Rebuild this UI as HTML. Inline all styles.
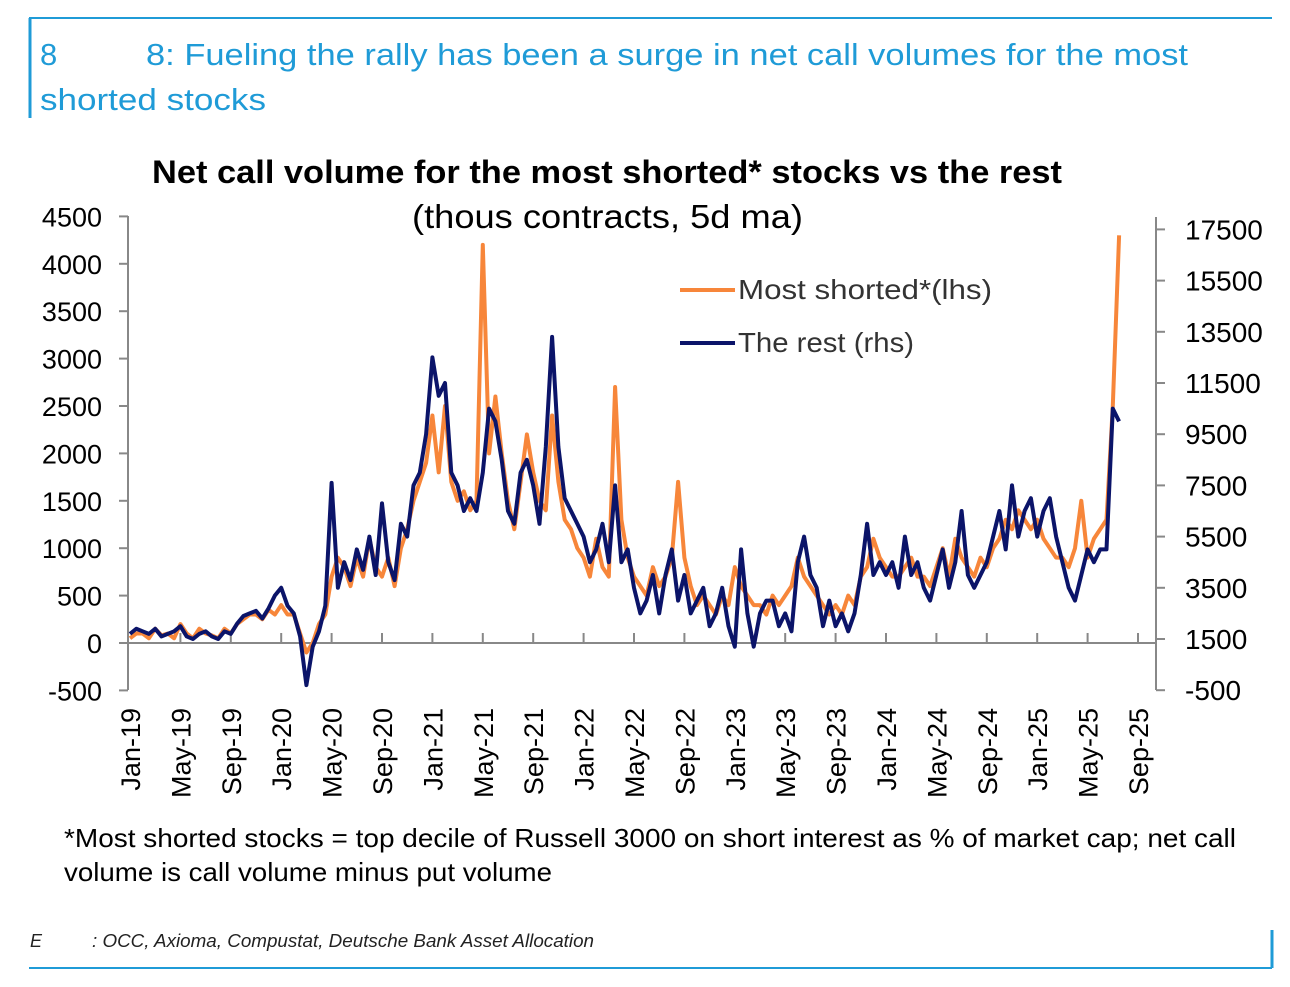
<!DOCTYPE html>
<html><head><meta charset="utf-8"><style>
body{margin:0;background:#fff;width:1290px;height:987px;overflow:hidden;font-family:"Liberation Sans",sans-serif;}
</style></head><body>
<svg width="1290" height="987" style="position:absolute;left:0;top:0">
<line x1="29" y1="18" x2="1272" y2="18" stroke="#1f9bd7" stroke-width="2"/>
<line x1="30" y1="18" x2="30" y2="118" stroke="#1f9bd7" stroke-width="3"/>
<text x="40" y="65" font-size="31" fill="#1f9bd7">8<tspan x="146" textLength="1042" lengthAdjust="spacingAndGlyphs">8: Fueling the rally has been a surge in net call volumes for the most</tspan></text>
<text x="40" y="110" font-size="31" fill="#1f9bd7" textLength="226" lengthAdjust="spacingAndGlyphs">shorted stocks</text>
<text x="152" y="183" font-size="32" font-weight="bold" fill="#000" textLength="910" lengthAdjust="spacingAndGlyphs">Net call volume for the most shorted* stocks vs the rest</text>
<text x="412" y="228" font-size="33" fill="#000" textLength="391" lengthAdjust="spacingAndGlyphs">(thous contracts, 5d ma)</text>
<g id="axes"></g>
<g id="series"></g>
<g>
<line x1="680" y1="290" x2="735" y2="290" stroke="#f7863a" stroke-width="4"/>
<text x="738" y="299" font-size="28" fill="#333" textLength="254" lengthAdjust="spacingAndGlyphs">Most shorted*(lhs)</text>
<line x1="680" y1="343" x2="735" y2="343" stroke="#0b1469" stroke-width="4"/>
<text x="738" y="352" font-size="28" fill="#333" textLength="176" lengthAdjust="spacingAndGlyphs">The rest (rhs)</text>
</g>
<text x="64" y="847" font-size="26" fill="#000" textLength="1172" lengthAdjust="spacingAndGlyphs">*Most shorted stocks = top decile of Russell 3000 on short interest as % of market cap; net call</text>
<text x="64" y="881" font-size="26" fill="#000" textLength="488" lengthAdjust="spacingAndGlyphs">volume is call volume minus put volume</text>
<text x="30" y="947" font-size="18" font-style="italic" fill="#222">E<tspan x="92" textLength="502" lengthAdjust="spacingAndGlyphs">: OCC, Axioma, Compustat, Deutsche Bank Asset Allocation</tspan></text>
<line x1="29" y1="968" x2="1272" y2="968" stroke="#1f9bd7" stroke-width="2"/>
<line x1="1272" y1="930" x2="1272" y2="968" stroke="#1f9bd7" stroke-width="3"/>
</svg>
<script>
const xLabels=["Jan-19","May-19","Sep-19","Jan-20","May-20","Sep-20","Jan-21","May-21","Sep-21","Jan-22","May-22","Sep-22","Jan-23","May-23","Sep-23","Jan-24","May-24","Sep-24","Jan-25","May-25","Sep-25"];
const leftTicks=[4500,4000,3500,3000,2500,2000,1500,1000,500,0,-500];
const rightTicks=[17500,15500,13500,11500,9500,7500,5500,3500,1500,-500];
// semi-monthly values starting Jan-2019
const mostShorted=[50,100,100,50,150,80,100,50,200,100,50,150,100,80,50,150,100,200,250,300,300,250,350,300,
400,300,300,100,-100,0,200,300,700,900,800,600,900,700,1100,800,700,900,600,1000,1200,1500,1700,1900,
2400,1800,2500,1700,1500,1600,1400,1500,4200,2000,2600,2000,1500,1200,1700,2200,1800,1500,1400,2400,1700,1300,1200,1000,
900,700,1100,800,700,2700,1300,900,700,600,500,800,600,700,900,1700,900,600,400,500,400,300,500,400,
800,600,500,400,400,300,500,400,500,600,900,700,600,500,400,300,400,300,500,400,700,800,1100,900,
800,700,700,800,900,700,700,600,800,1000,700,1100,900,800,700,900,800,1000,1100,1300,1200,1400,1300,1200,
1300,1100,1000,900,900,800,1000,1500,900,1100,1200,1300,2500,4300];
const theRest=[1700,1900,1800,1700,1900,1600,1700,1800,2000,1600,1500,1700,1800,1600,1500,1800,1700,2100,2400,2500,2600,2300,2700,3200,
3500,2800,2500,1600,-300,1200,1800,2800,7600,3500,4500,3800,5000,4200,5500,4000,6800,4500,3800,6000,5500,7500,8000,9500,
12500,11000,11500,8000,7500,6500,7000,6500,8000,10500,10000,8500,6500,6000,8000,8500,7500,6000,9000,13300,9000,7000,6500,6000,
5500,4500,5000,6000,4500,7500,4500,5000,3500,2500,3000,4000,2500,4000,5000,3000,4000,2500,3000,3500,2000,2500,3500,2000,
1200,5000,2500,1200,2500,3000,3000,2000,2500,1800,4500,5500,4000,3500,2000,3000,2000,2500,1800,2500,4000,6000,4000,4500,
4000,4500,3500,5500,4000,4500,3500,3000,4000,5000,3500,4500,6500,4000,3500,4000,4500,5500,6500,5000,7500,5500,6500,7000,
5500,6500,7000,5500,4500,3500,3000,4000,5000,4500,5000,5000,10500,10000];

const NS="http://www.w3.org/2000/svg";
const x0=130, monthW=50.4/4;
const xPos=i=>x0+i*monthW/2;
const yL=v=>643-(v)*47.4/500;
const yR=v=>639-(v-1500)*51.2/2000;
const axes=document.getElementById('axes'), series=document.getElementById('series');
function mk(tag,attrs,parent){const e=document.createElementNS(NS,tag);for(const k in attrs)e.setAttribute(k,attrs[k]);parent.appendChild(e);return e;}
let e;
e=mk('line',{x1:128,y1:216,x2:128,y2:690,stroke:'#888','stroke-width':2},axes);


e=mk('line',{x1:1156,y1:217,x2:1156,y2:690,stroke:'#888','stroke-width':2},axes);


e=mk('line',{x1:128,y1:643,x2:1156,y2:643,stroke:'#888','stroke-width':2},axes);


leftTicks.forEach(v=>{
  const y=yL(v);
  mk('line',{x1:119,y1:y,x2:128,y2:y,stroke:'#888','stroke-width':2},axes);
  e=mk('text',{x:102,y:y+10,'font-size':27,'text-anchor':'end',fill:'#000'},axes);
  e.textContent=v;
  
  
});
rightTicks.forEach(v=>{
  const y=yR(v);
  mk('line',{x1:1156,y1:y,x2:1165,y2:y,stroke:'#888','stroke-width':2},axes);
  e=mk('text',{x:1185,y:y+10,'font-size':28,fill:'#000'},axes);
  e.textContent=v;
  
  
});
xLabels.forEach((l,i)=>{
  const x=x0+i*50.4;
  if(i>0) mk('line',{x1:x,y1:633,x2:x,y2:643,stroke:'#888','stroke-width':2},axes);
  e=mk('text',{x:0,y:0,'font-size':27,'text-anchor':'end',fill:'#000',transform:`translate(${x+10},708) rotate(-90)`},axes);
  e.textContent=l;
  
  
});
e=mk('polyline',{points:mostShorted.map((v,i)=>xPos(i)+','+yL(v)).join(' '),fill:'none',stroke:'#f7863a','stroke-width':4,'stroke-linejoin':'round'},series);


e=mk('polyline',{points:theRest.map((v,i)=>xPos(i)+','+yR(v)).join(' '),fill:'none',stroke:'#0b1469','stroke-width':4,'stroke-linejoin':'round'},series);


</script>
</body></html>
